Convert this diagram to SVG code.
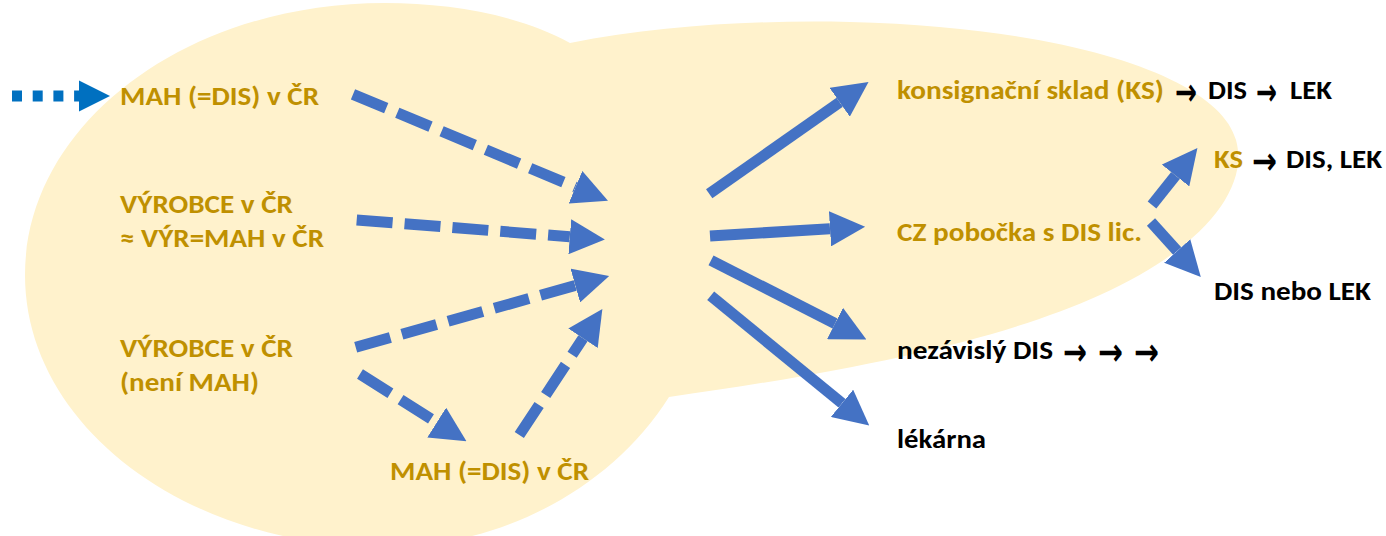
<svg xmlns="http://www.w3.org/2000/svg" width="1386" height="536" viewBox="0 0 1386 536">
  <style>
    .lbl { font-family: Carlito, Lato, "Open Sans", sans-serif; font-weight: bold; font-size: 26.5px; }
    .gold { fill: #BF9000; }
    .blk { fill: #000000; }
    .arr { font-family: "DejaVu Sans", sans-serif; font-weight: bold; font-size: 38px; fill: #000000; }
    .solid { stroke: #4472C4; stroke-width: 11; fill: none; marker-end: url(#head); }
    .dash { stroke: #4472C4; stroke-width: 11; fill: none; stroke-dasharray: 36 12; marker-end: url(#head); }
    .dot { stroke: #0070C0; stroke-width: 11; fill: none; stroke-dasharray: 10 10.7; marker-end: url(#dothead); }
  </style>
  <defs>
    <marker id="head" markerUnits="strokeWidth" markerWidth="3.2" markerHeight="3.2" viewBox="0 0 3.2 3.2" refX="0" refY="1.6" orient="auto">
      <path d="M0,0 L3.2,1.6 L0,3.2 z" fill="#4472C4"/>
    </marker>
    <marker id="dothead" markerUnits="strokeWidth" markerWidth="2.82" markerHeight="2.82" viewBox="0 0 2.82 2.82" refX="0" refY="1.41" orient="auto">
      <path d="M0,0 L2.82,1.41 L0,2.82 z" fill="#0070C0"/>
    </marker>
  </defs>

  <g id="background">
    <path d="M 570 43 C 660 25, 760 20, 850 22 C 1080 28, 1220 80, 1236 140 C 1250 190, 1200 250, 1100 295 C 1000 340, 860 370, 669 397 C 610 490, 500 547, 385 547 C 185 547, 25 425, 25 275 C 25 125, 185 3, 385 3 C 450 3, 520 15, 570 43 Z" fill="#FFF2CC"/>
  </g>

  <g id="connectors">
    <line class="dot" x1="12" y1="96" x2="79" y2="96"/>
    <line class="dash" x1="353" y1="94.3" x2="575.5" y2="187.2"/>
    <line class="dash" x1="356.7" y1="220" x2="569.8" y2="236.8"/>
    <line class="dash" x1="355.7" y1="347.3" x2="575.3" y2="285.5"/>
    <line class="dash" x1="360" y1="374" x2="436.7" y2="422.5"/>
    <line class="dash" x1="519.3" y1="435" x2="583" y2="338.3"/>
    <line class="solid" x1="709.2" y1="193.8" x2="839.7" y2="102.3"/>
    <line class="solid" x1="710" y1="236" x2="830" y2="228.8"/>
    <line class="solid" x1="711" y1="260.3" x2="835" y2="323.5"/>
    <line class="solid" x1="710.7" y1="295.8" x2="842" y2="403.3"/>
    <line class="solid" x1="1152" y1="205" x2="1175.5" y2="175.5"/>
    <line class="solid" x1="1151" y1="222" x2="1177.2" y2="251"/>
  </g>

  <g id="mah-cr-top">
    <text class="lbl gold" x="120" y="105" textLength="199" lengthAdjust="spacingAndGlyphs">MAH (=DIS) v ČR</text>
  </g>
  <g id="vyrobce-mah">
    <text class="lbl gold" x="120" y="213" textLength="173" lengthAdjust="spacingAndGlyphs">VÝROBCE v ČR</text>
    <text class="lbl gold" x="120" y="247" textLength="204" lengthAdjust="spacingAndGlyphs">≈ VÝR=MAH v ČR</text>
  </g>
  <g id="vyrobce-neni-mah">
    <text class="lbl gold" x="120" y="357" textLength="173" lengthAdjust="spacingAndGlyphs">VÝROBCE v ČR</text>
    <text class="lbl gold" x="120" y="391" textLength="139" lengthAdjust="spacingAndGlyphs">(není MAH)</text>
  </g>
  <g id="mah-cr-bottom">
    <text class="lbl gold" x="390" y="480" textLength="199" lengthAdjust="spacingAndGlyphs">MAH (=DIS) v ČR</text>
  </g>
  <g id="konsignacni-sklad">
    <text class="lbl gold" x="897" y="99" textLength="267" lengthAdjust="spacingAndGlyphs">konsignační sklad (KS)</text>
    <text class="arr" x="1175" y="104.5" textLength="22" lengthAdjust="spacingAndGlyphs">→</text>
    <text class="lbl blk" x="1208" y="99" textLength="39" lengthAdjust="spacingAndGlyphs">DIS</text>
    <text class="arr" x="1256" y="104.5" textLength="21" lengthAdjust="spacingAndGlyphs">→</text>
    <text class="lbl blk" x="1290" y="99" textLength="42" lengthAdjust="spacingAndGlyphs">LEK</text>
  </g>
  <g id="ks">
    <text class="lbl gold" x="1214" y="168" textLength="29" lengthAdjust="spacingAndGlyphs">KS</text>
    <text class="arr" x="1252" y="173.5" textLength="25" lengthAdjust="spacingAndGlyphs">→</text>
    <text class="lbl blk" x="1286" y="168" textLength="96" lengthAdjust="spacingAndGlyphs">DIS, LEK</text>
  </g>
  <g id="cz-pobocka">
    <text class="lbl gold" x="897" y="241" textLength="245" lengthAdjust="spacingAndGlyphs">CZ pobočka s DIS lic.</text>
  </g>
  <g id="dis-nebo-lek">
    <text class="lbl blk" x="1214" y="300" textLength="157" lengthAdjust="spacingAndGlyphs">DIS nebo LEK</text>
  </g>
  <g id="nezavisly-dis">
    <text class="lbl blk" x="897" y="359" textLength="156" lengthAdjust="spacingAndGlyphs">nezávislý DIS</text>
    <text class="arr" x="1063" y="364.5" textLength="24" lengthAdjust="spacingAndGlyphs">→</text>
    <text class="arr" x="1098" y="364.5" textLength="25" lengthAdjust="spacingAndGlyphs">→</text>
    <text class="arr" x="1134" y="364.5" textLength="25" lengthAdjust="spacingAndGlyphs">→</text>
  </g>
  <g id="lekarna">
    <text class="lbl blk" x="897" y="448" textLength="89" lengthAdjust="spacingAndGlyphs">lékárna</text>
  </g>
</svg>
